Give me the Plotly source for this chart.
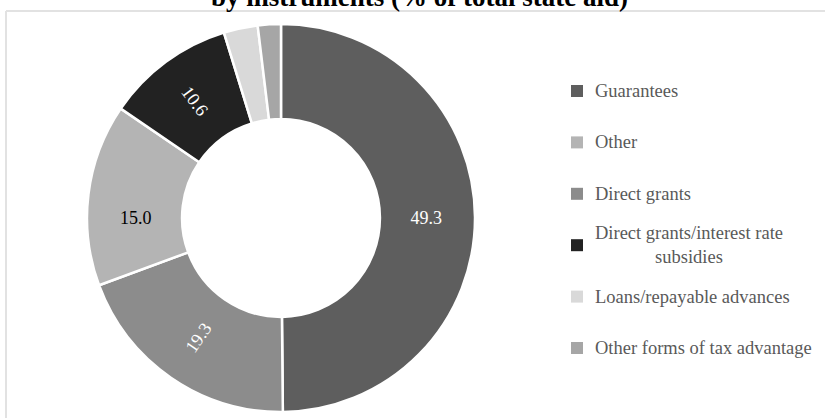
import plotly.graph_objects as go

# Data (clockwise from 12 o'clock)
labels = ["Guarantees", "Direct grants", "Other",
          "Direct grants/interest rate subsidies",
          "Loans/repayable advances", "Other forms of tax advantage"]
values = [49.3, 19.3, 15.0, 10.6, 2.8, 1.9]
colors = ["#5e5e5e", "#8c8c8c", "#b4b4b4", "#222222", "#d9d9d9", "#a6a6a6"]
text_colors = ["white", "white", "black", "white", "white", "white"]

legend_order = ["Guarantees", "Other", "Direct grants",
                "Direct grants/interest rate subsidies",
                "Loans/repayable advances", "Other forms of tax advantage"]
legend_text = {
    "Direct grants/interest rate subsidies": "Direct grants/interest rate<br>subsidies"
}

title = "by instruments (% of total state aid)"

W, H = 825, 418
FONT = "Liberation Serif, Times New Roman, serif"

slice_text = [f"{v:.1f}" if v >= 5 else "" for v in values]

fig = go.Figure()
fig.add_trace(go.Pie(
    labels=labels, values=values, sort=False, direction="clockwise",
    rotation=0, hole=0.51,
    marker=dict(colors=colors, line=dict(color="white", width=2.5)),
    text=slice_text, textinfo="text", textposition="inside",
    insidetextorientation="radial",
    textfont=dict(family=FONT, size=18, color=text_colors),
    showlegend=False, hoverinfo="label+value",
    domain=dict(x=[(281 - 194) / W, (281 + 194) / W],
                y=[(H - 412) / H, (H - 24) / H]),
))

shapes = [
    dict(type="line", xref="paper", yref="paper", x0=6 / W, x1=1, y0=1 - 11 / H, y1=1 - 11 / H,
         line=dict(color="#e2e2e2", width=2)),
    dict(type="line", xref="paper", yref="paper", x0=6 / W, x1=6 / W, y0=0, y1=1 - 11 / H,
         line=dict(color="#e2e2e2", width=2)),
]
annotations = [dict(xref="paper", yref="paper", x=419 / W, y=1 + 3 / H,
                    xanchor="center", yanchor="middle", showarrow=False,
                    text=f"<b>{title}</b>",
                    font=dict(family=FONT, size=27, color="black"))]
y0, step = 91, 51.4
for i, name in enumerate(legend_order):
    c = colors[labels.index(name)]
    yc = y0 + i * step
    shapes.append(dict(type="rect", xref="paper", yref="paper",
                       x0=571 / W, x1=583 / W, y0=1 - (yc + 6) / H, y1=1 - (yc - 6) / H,
                       fillcolor=c, line=dict(width=0)))
    annotations.append(dict(xref="paper", yref="paper", x=593 / W, y=1 - yc / H,
                            xanchor="left", yanchor="middle", align="center",
                            text=legend_text.get(name, name), showarrow=False,
                            font=dict(family=FONT, size=18.5, color="#595959")))

fig.update_layout(
    width=W, height=H, margin=dict(l=0, r=0, t=0, b=0),
    paper_bgcolor="white", plot_bgcolor="white",
    shapes=shapes, annotations=annotations,
)

fig.write_html("out.html", config={"displayModeBar": False},
               post_script="document.body.style.margin='0px';")
